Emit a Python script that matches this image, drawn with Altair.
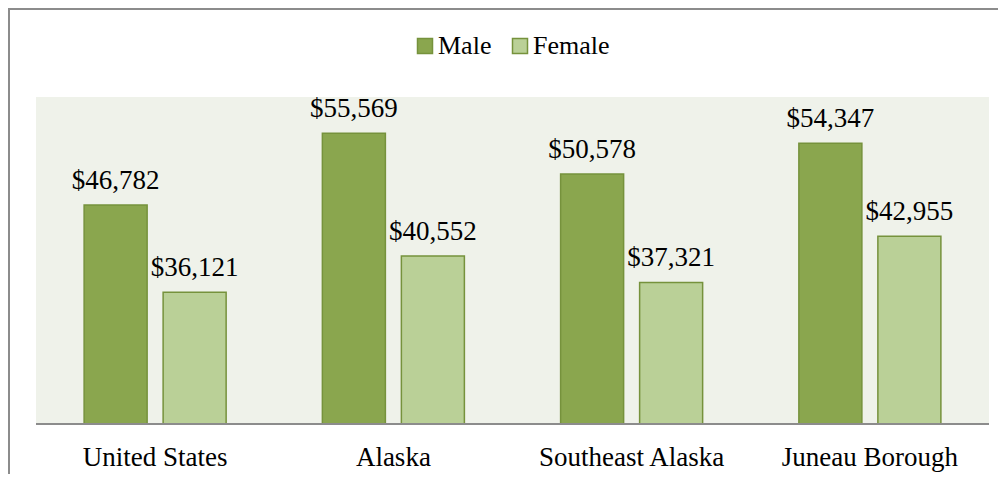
import altair as alt
import pandas as pd

categories = ["United States", "Alaska", "Southeast Alaska", "Juneau Borough"]
series = ["Male", "Female"]
male_values = [46782, 55569, 50578, 54347]
female_values = [36121, 40552, 37321, 42955]
axis_min = 20000
axis_max = 60000

rows = []
for c, m, f in zip(categories, male_values, female_values):
    rows.append({"category": c, "gender": "Male", "value": m})
    rows.append({"category": c, "gender": "Female", "value": f})
df = pd.DataFrame(rows)
cat_df = pd.DataFrame({"category": categories})

FONT = "Liberation Serif"
FS = 27
W, H = 953, 327

x_enc = alt.X("category:N", sort=categories, axis=None,
              scale=alt.Scale(paddingInner=0, paddingOuter=0))
xo_enc = alt.XOffset("gender:N", sort=series,
                     scale=alt.Scale(paddingInner=0.2025, paddingOuter=0.609))
y_scale = alt.Scale(domain=[axis_min, axis_max], zero=False, nice=False)

bars = alt.Chart(df).mark_bar(stroke="#76923C", strokeWidth=1.5).encode(
    x=x_enc,
    xOffset=xo_enc,
    y=alt.Y("value:Q", scale=y_scale, axis=None),
    y2=alt.datum(axis_min),
    color=alt.Color("gender:N", sort=series,
                    scale=alt.Scale(domain=series, range=["#8AA64E", "#BAD097"]),
                    legend=alt.Legend(title=None, orient="none", direction="horizontal",
                                      legendX=376, legendY=-64,
                                      symbolType="square", symbolSize=225,
                                      symbolStrokeColor="#76923C", symbolStrokeWidth=1.5,
                                      labelFont=FONT, labelFontSize=26, labelColor="#000000",
                                      labelOffset=0, columnPadding=15)),
)

labels = alt.Chart(df).mark_text(font=FONT, fontSize=FS, color="#000000",
                                 baseline="alphabetic", dy=-16).encode(
    x=x_enc,
    xOffset=xo_enc,
    y=alt.Y("value:Q", scale=y_scale),
    text=alt.Text("value:Q", format="$,.0f"),
)

cat_labels = alt.Chart(cat_df).mark_text(font=FONT, fontSize=FS, color="#000000",
                                         baseline="alphabetic").encode(
    x=x_enc,
    y=alt.value(H + 42),
    text="category:N",
)

baseline = alt.Chart(cat_df).mark_rule(color="#8C8C8C", strokeWidth=2).encode(
    x=alt.value(0), x2=alt.value(W), y=alt.datum(axis_min)
)

border_top = alt.Chart(cat_df).mark_rule(color="#8C8C8C", strokeWidth=2).encode(
    x=alt.value(-28), x2=alt.value(W + 9), y=alt.value(-88)
)
border_left = alt.Chart(cat_df).mark_rule(color="#8C8C8C", strokeWidth=2).encode(
    x=alt.value(-27), y=alt.value(-89), y2=alt.value(H + 50)
)

chart = alt.layer(bars, labels, cat_labels, baseline, border_top, border_left).properties(
    width=W, height=H,
    background="#FFFFFF",
    padding={"left": 28, "top": 89, "right": 9, "bottom": 50},
    autosize=alt.AutoSizeParams(type="none"),
).configure_view(fill="#EFF2EA", strokeWidth=0)

chart.save("out.html", embed_options={"renderer": "svg", "actions": False})
